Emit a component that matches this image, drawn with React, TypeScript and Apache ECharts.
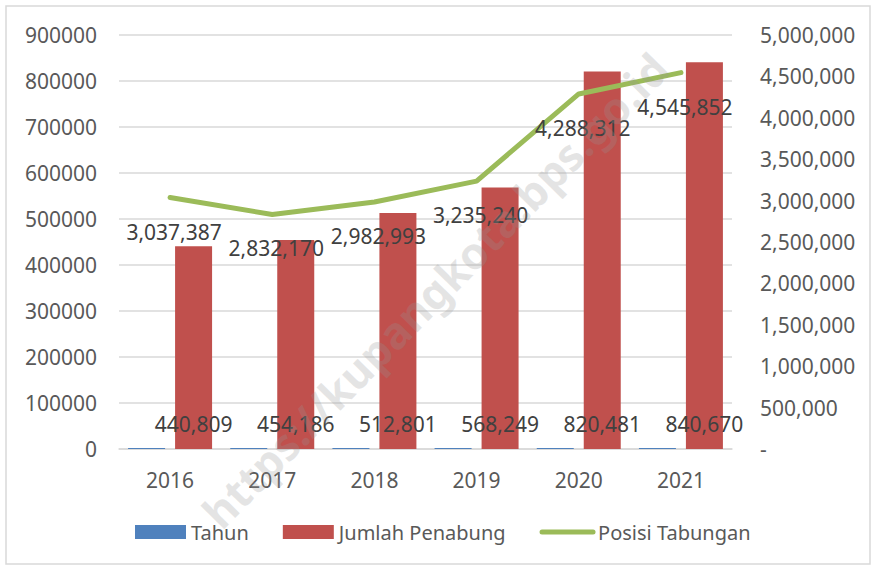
import React, { useEffect, useRef } from "react";
import * as echarts from "echarts";

const years = ["2016", "2017", "2018", "2019", "2020", "2021"];
const tahun = [2016, 2017, 2018, 2019, 2020, 2021];
const jumlahPenabung = [440809, 454186, 512801, 568249, 820481, 840670];
const posisiTabungan = [3037387, 2832170, 2982993, 3235240, 4288312, 4545852];

const FONT = "Noto Sans";
const fmt = (v: number) => v.toLocaleString("en-US");

export default function App() {
  const ref = useRef<HTMLDivElement>(null);
  useEffect(() => {
    if (!ref.current) return;
    const chart = echarts.init(ref.current, null, { renderer: "svg" });
    chart.setOption({
      animation: false,
      backgroundColor: "#ffffff",
      textStyle: { fontFamily: FONT },
      grid: { left: 119, right: 144, top: 35, bottom: 120 },
      legend: {
        left: 130,
        top: 517,
        itemWidth: 51,
        itemHeight: 14,
        itemGap: 34,
        textStyle: { fontFamily: FONT, fontSize: 20, color: "#595959" },
        data: [
          { name: "Tahun", icon: "rect" },
          { name: "Jumlah Penabung", icon: "rect" },
          {
            name: "Posisi Tabungan",
            itemStyle: { opacity: 0 },
            lineStyle: { width: 5, color: "#9BBB59", cap: "round" },
          },
        ],
      },
      xAxis: {
        type: "category",
        data: years,
        axisTick: { show: false },
        axisLine: { lineStyle: { color: "#d9d9d9", width: 1.5 } },
        axisLabel: { color: "#595959", fontSize: 21, margin: 20, fontFamily: FONT },
      },
      yAxis: [
        {
          type: "value",
          min: 0,
          max: 900000,
          interval: 100000,
          axisLine: { show: false },
          axisTick: { show: false },
          splitLine: { lineStyle: { color: "#d9d9d9", width: 1.5 } },
          axisLabel: {
            color: "#595959",
            fontSize: 21,
            margin: 22,
            fontFamily: FONT,
            formatter: (v: number) => String(v),
          },
        },
        {
          type: "value",
          min: 0,
          max: 5000000,
          interval: 500000,
          axisLine: { show: false },
          axisTick: { show: false },
          splitLine: { show: false },
          axisLabel: {
            color: "#595959",
            fontSize: 21,
            margin: 28,
            fontFamily: FONT,
            formatter: (v: number) => (v === 0 ? "-" : fmt(v)),
          },
        },
      ],
      series: [
        {
          name: "Tahun",
          type: "bar",
          yAxisIndex: 0,
          data: tahun,
          barWidth: 37,
          barGap: "27%",
          itemStyle: { color: "#4F81BD" },
        },
        {
          name: "Jumlah Penabung",
          type: "bar",
          yAxisIndex: 0,
          data: jumlahPenabung,
          barWidth: 37,
          barGap: "27%",
          itemStyle: { color: "#C0504D" },
          label: {
            show: true,
            position: "insideBottom",
            distance: 15,
            color: "#404040",
            fontSize: 21,
            fontFamily: FONT,
            formatter: (p: any) => fmt(p.value),
          },
        },
        {
          name: "Posisi Tabungan",
          type: "line",
          yAxisIndex: 1,
          data: posisiTabungan,
          symbol: "circle",
          symbolSize: 1,
          itemStyle: { color: "#9BBB59" },
          lineStyle: { color: "#9BBB59", width: 5, cap: "round", join: "round" },
          label: {
            show: true,
            position: "bottom",
            distance: 23,
            offset: [4, 0],
            color: "#404040",
            fontSize: 21,
            fontFamily: FONT,
            formatter: (p: any) => fmt(p.value),
          },
          z: 5,
        },
      ],
      graphic: [
        {
          type: "rect",
          shape: { x: 6, y: 6, width: 864, height: 558 },
          style: { fill: "none", stroke: "#d9d9d9", lineWidth: 1.5 },
          silent: true,
          z: -1,
        },
        {
          type: "text",
          x: 435,
          y: 290,
          rotation: (45.6 * Math.PI) / 180,
          silent: true,
          z: 100,
          style: {
            text: "https://kupangkota.bps.go.id",
            fontFamily: FONT,
            fontWeight: "bold",
            fontSize: 44,
            fill: "rgba(150,150,150,0.25)",
            align: "center",
            verticalAlign: "middle",
          },
        },
      ],
    });
    return () => chart.dispose();
  }, []);
  return (
    <div
      ref={ref}
      style={{ position: "fixed", left: 0, top: 0, width: 876, height: 569 }}
    />
  );
}
